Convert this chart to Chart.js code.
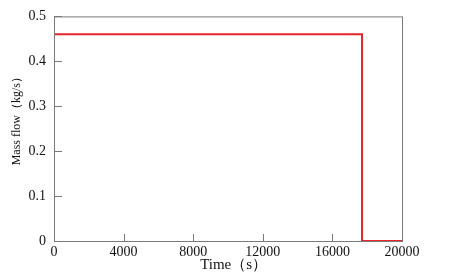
<!DOCTYPE html>
<html><head><meta charset="utf-8">
<script src="https://cdn.jsdelivr.net/npm/chart.js@4/dist/chart.umd.min.js"></script>
<style>html,body{margin:0;padding:0;background:#fff}#wrap{width:453px;height:277px}</style>
</head><body><div id="wrap"><canvas id="c" width="453" height="277"></canvas></div>
<script>
const timeS = [0, 17700, 17700, 20000];
const massFlow = [0.46, 0.46, 0, 0];
const xTicks = [0, 4000, 8000, 12000, 16000, 20000];
const yTicks = [0, 0.1, 0.2, 0.3, 0.4, 0.5];
const xTitle = '\u00a0\u00a0\u00a0Time（s）';
const yTitle = '\u00a0\u00a0\u00a0\u00a0\u00a0\u00a0\u00a0Mass flow（kg/s）';

const FONT = '"Liberation Serif", "Times New Roman", serif';
const AX = '#7a7a7a';

const frame = {
  id: 'frame',
  afterDraw(chart) {
    const {ctx, chartArea: a, scales} = chart;
    ctx.save();
    ctx.strokeStyle = AX; ctx.lineWidth = 1;
    ctx.strokeRect(a.left + 0.5, a.top + 0.5, a.right - a.left, a.bottom - a.top);
    ctx.beginPath();
    scales.x.ticks.forEach(t => {
      const px = Math.round(scales.x.getPixelForValue(t.value)) + 0.5;
      ctx.moveTo(px, a.bottom); ctx.lineTo(px, a.bottom - 7);
    });
    scales.y.ticks.forEach(t => {
      const py = Math.round(scales.y.getPixelForValue(t.value)) + 0.5;
      ctx.moveTo(a.left, py); ctx.lineTo(a.left + 8, py);
    });
    ctx.stroke();
    ctx.restore();
  }
};

new Chart(document.getElementById('c'), {
  type: 'line',
  data: {
    datasets: [{
      data: timeS.map((t, i) => ({x: t, y: massFlow[i]})),
      borderColor: '#e8262a',
      borderWidth: 2,
      pointRadius: 0,
      tension: 0,
      fill: false
    }]
  },
  options: {
    responsive: false,
    animation: false,
    layout: {padding: {top: 16, right: 51, left: 0, bottom: 0}},
    plugins: {legend: {display: false}, tooltip: {enabled: false}},
    scales: {
      x: {
        type: 'linear', min: 0, max: 20000,
        afterBuildTicks: s => { s.ticks = xTicks.map(v => ({value: v})); },
        afterFit: s => { s.height = 36; },
        grid: {display: false, drawTicks: false},
        border: {display: false},
        ticks: {color: '#111', font: {family: FONT, size: 14}, padding: 3, maxRotation: 0,
                callback: v => String(v)},
        title: {display: true, text: xTitle, color: '#111', font: {family: FONT, size: 15}, padding: {top: 0, bottom: 3}}
      },
      y: {
        type: 'linear', min: 0, max: 0.5,
        afterBuildTicks: s => { s.ticks = yTicks.map(v => ({value: v})); },
        afterFit: s => { s.width = 54; },
        grid: {display: false, drawTicks: false},
        border: {display: false},
        ticks: {color: '#111', font: {family: FONT, size: 14}, padding: 8,
                callback: v => v === 0 ? '0' : v.toFixed(1)},
        title: {display: true, text: yTitle, color: '#111', font: {family: FONT, size: 12}, padding: {top: 10, bottom: 0}}
      }
    }
  },
  plugins: [frame]
});
</script></body></html>
